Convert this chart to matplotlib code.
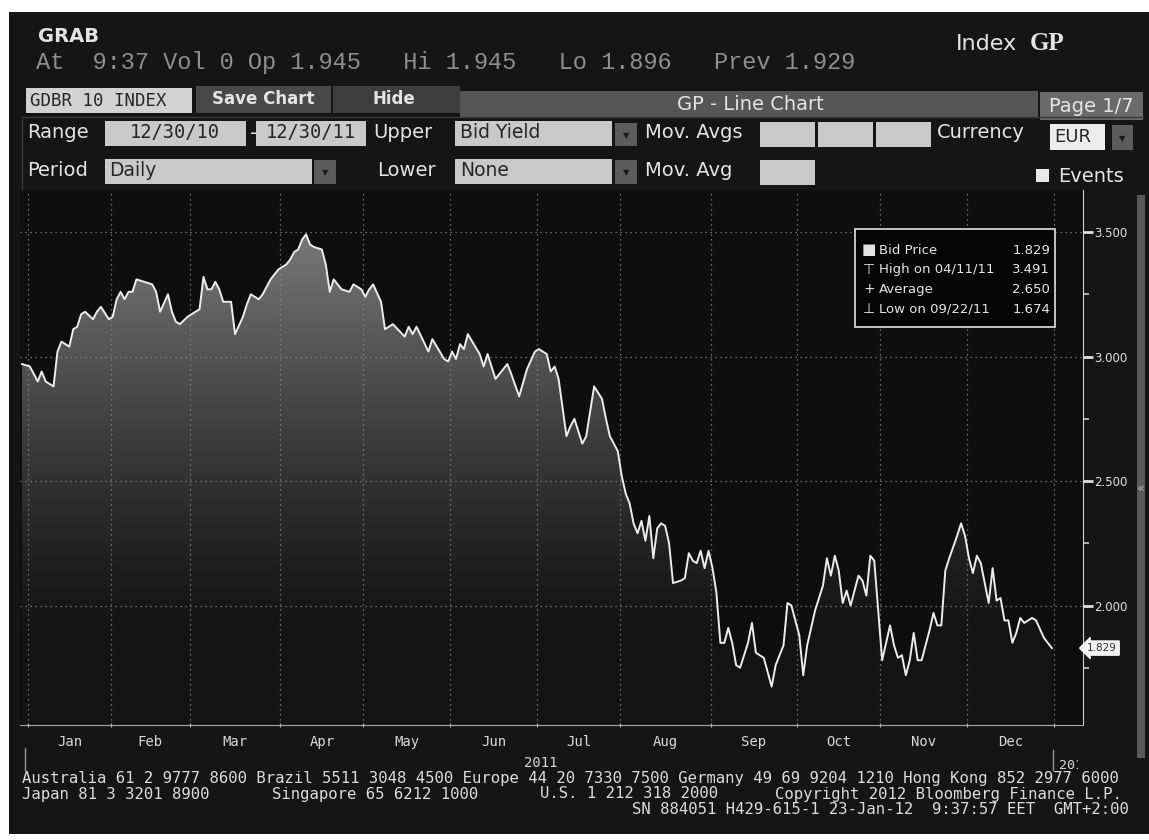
import numpy as np
import pandas as pd
import matplotlib
matplotlib.use("Agg")
import matplotlib.pyplot as plt
from matplotlib.patches import Rectangle, Polygon
from matplotlib.transforms import blended_transform_factory, Bbox

# ---- data (GDBR10, bid yield, daily) ----
obs_dates = [
    "2010-12-30", "2011-01-03", "2011-01-05", "2011-01-06", "2011-01-07", "2011-01-11",
    "2011-01-12", "2011-01-13", "2011-01-17", "2011-01-18", "2011-01-19", "2011-01-20",
    "2011-01-21", "2011-01-25", "2011-01-26", "2011-01-27", "2011-01-31", "2011-02-01",
    "2011-02-02", "2011-02-03", "2011-02-04", "2011-02-07", "2011-02-08", "2011-02-09",
    "2011-02-11", "2011-02-15", "2011-02-16", "2011-02-17", "2011-02-21", "2011-02-22",
    "2011-02-23", "2011-02-24", "2011-02-28", "2011-03-03", "2011-03-04", "2011-03-07",
    "2011-03-08", "2011-03-09", "2011-03-10", "2011-03-11", "2011-03-15", "2011-03-16",
    "2011-03-18", "2011-03-21", "2011-03-22", "2011-03-24", "2011-03-25", "2011-03-29",
    "2011-03-31", "2011-04-04", "2011-04-05", "2011-04-06", "2011-04-07", "2011-04-08",
    "2011-04-11", "2011-04-12", "2011-04-13", "2011-04-15", "2011-04-18", "2011-04-19",
    "2011-04-20", "2011-04-22", "2011-04-26", "2011-04-27", "2011-04-29", "2011-05-02",
    "2011-05-03", "2011-05-04", "2011-05-06", "2011-05-09", "2011-05-11", "2011-05-16",
    "2011-05-17", "2011-05-18", "2011-05-19", "2011-05-24", "2011-05-25", "2011-05-30",
    "2011-05-31", "2011-06-01", "2011-06-02", "2011-06-03", "2011-06-06", "2011-06-07",
    "2011-06-10", "2011-06-13", "2011-06-14", "2011-06-16", "2011-06-20", "2011-06-21",
    "2011-06-22", "2011-06-24", "2011-06-28", "2011-06-30", "2011-07-01", "2011-07-05",
    "2011-07-06", "2011-07-07", "2011-07-08", "2011-07-12", "2011-07-13", "2011-07-14",
    "2011-07-15", "2011-07-18", "2011-07-19", "2011-07-21", "2011-07-25", "2011-07-26",
    "2011-07-27", "2011-07-29", "2011-08-01", "2011-08-02", "2011-08-03", "2011-08-04",
    "2011-08-05", "2011-08-08", "2011-08-09", "2011-08-10", "2011-08-11", "2011-08-12",
    "2011-08-15", "2011-08-16", "2011-08-17", "2011-08-18", "2011-08-22", "2011-08-23",
    "2011-08-24", "2011-08-25", "2011-08-26", "2011-08-29", "2011-08-30", "2011-08-31",
    "2011-09-01", "2011-09-02", "2011-09-05", "2011-09-06", "2011-09-07", "2011-09-08",
    "2011-09-09", "2011-09-12", "2011-09-14", "2011-09-15", "2011-09-16", "2011-09-20",
    "2011-09-22", "2011-09-23", "2011-09-27", "2011-09-28", "2011-09-29", "2011-10-03",
    "2011-10-04", "2011-10-05", "2011-10-07", "2011-10-11", "2011-10-12", "2011-10-13",
    "2011-10-14", "2011-10-17", "2011-10-18", "2011-10-19", "2011-10-20", "2011-10-24",
    "2011-10-25", "2011-10-26", "2011-10-27", "2011-10-28", "2011-11-01", "2011-11-03",
    "2011-11-04", "2011-11-07", "2011-11-08", "2011-11-09", "2011-11-10", "2011-11-11",
    "2011-11-14", "2011-11-15", "2011-11-17", "2011-11-18", "2011-11-21", "2011-11-22",
    "2011-11-23", "2011-11-24", "2011-11-28", "2011-11-29", "2011-11-30", "2011-12-01",
    "2011-12-02", "2011-12-05", "2011-12-06", "2011-12-08", "2011-12-09", "2011-12-12",
    "2011-12-13", "2011-12-14", "2011-12-15", "2011-12-16", "2011-12-19", "2011-12-20",
    "2011-12-21", "2011-12-23", "2011-12-26", "2011-12-28", "2011-12-30",
]
bid_yield = [
    2.97, 2.96, 2.90, 2.94, 2.90, 2.88,
    3.02, 3.06, 3.04, 3.11, 3.12, 3.17,
    3.18, 3.15, 3.18, 3.20, 3.15, 3.16,
    3.23, 3.26, 3.23, 3.26, 3.26, 3.31,
    3.30, 3.29, 3.26, 3.18, 3.25, 3.18,
    3.14, 3.13, 3.16, 3.19, 3.32, 3.27,
    3.27, 3.30, 3.27, 3.22, 3.22, 3.09,
    3.16, 3.21, 3.25, 3.23, 3.25, 3.31,
    3.35, 3.37, 3.39, 3.42, 3.43, 3.47,
    3.491, 3.45, 3.44, 3.43, 3.37, 3.26,
    3.31, 3.27, 3.26, 3.29, 3.27, 3.24,
    3.27, 3.29, 3.22, 3.11, 3.13, 3.08,
    3.12, 3.09, 3.12, 3.02, 3.07, 2.99,
    2.98, 3.02, 2.99, 3.05, 3.03, 3.09,
    3.01, 2.96, 3.01, 2.91, 2.95, 2.97,
    2.93, 2.84, 2.95, 3.02, 3.03, 3.01,
    2.94, 2.96, 2.91, 2.68, 2.72, 2.75,
    2.70, 2.65, 2.68, 2.88, 2.83, 2.75,
    2.68, 2.62, 2.52, 2.45, 2.41, 2.33,
    2.29, 2.34, 2.26, 2.36, 2.19, 2.31,
    2.33, 2.32, 2.25, 2.09, 2.10, 2.11,
    2.21, 2.18, 2.17, 2.22, 2.15, 2.22,
    2.15, 2.05, 1.85, 1.85, 1.91, 1.85,
    1.76, 1.75, 1.85, 1.93, 1.81, 1.79,
    1.674, 1.76, 1.84, 2.01, 2.00, 1.88,
    1.72, 1.84, 1.98, 2.08, 2.19, 2.12,
    2.20, 2.14, 2.01, 2.06, 2.00, 2.12,
    2.10, 2.04, 2.20, 2.18, 1.78, 1.92,
    1.84, 1.79, 1.80, 1.72, 1.78, 1.89,
    1.78, 1.78, 1.90, 1.97, 1.92, 1.92,
    2.14, 2.19, 2.28, 2.33, 2.28, 2.19,
    2.13, 2.20, 2.17, 2.01, 2.15, 2.02,
    2.03, 1.94, 1.94, 1.85, 1.89, 1.95,
    1.93, 1.95, 1.94, 1.87, 1.829,
]
month_labels = ["Jan", "Feb", "Mar", "Apr", "May", "Jun",
                "Jul", "Aug", "Sep", "Oct", "Nov", "Dec"]
y_major = [2.0, 2.5, 3.0, 3.5]
y_minor = [1.75, 2.25, 2.75, 3.25]
legend_names = ["Bid Price", "High on 04/11/11", "Average", "Low on 09/22/11"]
legend_values = ["1.829", "3.491", "2.650", "1.674"]
legend_marks = ["\u25A0", "\u22A4", "+", "\u22A5"]
quote_line = "At  9:37 Vol 0 Op 1.945   Hi 1.945   Lo 1.896   Prev 1.929"
footer_rows = [
    [(22, "Australia 61 2 9777 8600 Brazil 5511 3048 4500 Europe 44 20 7330 7500 "
          "Germany 49 69 9204 1210 Hong Kong 852 2977 6000")],
    [(22, "Japan 81 3 3201 8900"), (272, "Singapore 65 6212 1000"),
     (540, "U.S. 1 212 318 2000"), (775, "Copyright 2012 Bloomberg Finance L.P.")],
    [(632, "SN 884051 H429-615-1 23-Jan-12  9:37:57 EET  GMT+2:00")],
]

W, H = 1149, 840
SCREEN = "#151515"
PLOT_BG = "#0e0e0e"
FG = "#e4e4e4"
FIELD = "#c9c9c9"
FIELD_TXT = "#262626"

fig = plt.figure(figsize=(W / 100, H / 100), dpi=100)
fig.patch.set_facecolor("white")

ui = fig.add_axes([0, 0, 1, 1])
ui.set_xlim(0, W)
ui.set_ylim(H, 0)
ui.axis("off")


def box(x0, y0, x1, y1, fc, ec="none", lw=0):
    ui.add_patch(Rectangle((x0, y0), x1 - x0, y1 - y0, facecolor=fc,
                           edgecolor=ec, linewidth=lw))


def txt(x, y, s, size=14, color=FG, ha="left", weight="normal", family="DejaVu Sans"):
    return ui.text(x, y, s, fontsize=size, color=color, ha=ha, va="center",
                   fontweight=weight, family=family)


def dropdown(x0, y0, x1, y1):
    box(x0, y0, x1, y1, "#5c5c5c")
    txt((x0 + x1) / 2, (y0 + y1) / 2 + 1, "\u25BC", size=6, color="#1a1a1a", ha="center")


# screen
box(9, 12, 1149, 834, SCREEN)

# header
txt(38, 37, "GRAB", size=14, weight="bold")
txt(36, 63, quote_line, size=17, color="#8e8e8e", family="Liberation Mono")
txt(956, 44, "Index", size=16)
txt(1030, 44, "GP", size=18, weight="bold", family="Liberation Serif")

# tab row
box(26, 88, 192, 113, "#d2d2d2")
txt(30, 101, "GDBR 10 INDEX", size=12.5, color=FIELD_TXT, family="DejaVu Sans Mono")
box(196, 86, 331, 113, "#484848")
txt(263, 99, "Save Chart", size=12, weight="bold", ha="center")
box(333, 86, 460, 113, "#3d3d3d")
txt(372, 99, "Hide", size=12, weight="bold")
box(460, 91, 1038, 117, "#565656")
txt(750, 104, "GP - Line Chart", size=14, ha="center")
box(1040, 92, 1143, 120, "#6a6a6a")
txt(1091, 106, "Page 1/7", size=14, ha="center")
ui.plot([22, 22, 1143], [190, 117, 117], color="#3a3a3a", lw=1)

# range row
txt(27, 133, "Range", size=14)
box(105, 121, 246, 146, FIELD)
txt(175, 133, "12/30/10", size=13.5, color=FIELD_TXT, ha="center", family="DejaVu Sans Mono")
txt(250, 133, "-", size=14)
box(256, 121, 366, 146, FIELD)
txt(311, 133, "12/30/11", size=13.5, color=FIELD_TXT, ha="center", family="DejaVu Sans Mono")
txt(373, 133, "Upper", size=14)
box(455, 121, 612, 146, FIELD)
txt(460, 133, "Bid Yield", size=13.5, color=FIELD_TXT)
dropdown(615, 123, 637, 146)
txt(645, 133, "Mov. Avgs", size=14)
for x0 in (760, 818, 876):
    box(x0, 122, x0 + 55, 147, FIELD)
txt(937, 133, "Currency", size=14)
box(1050, 124, 1105, 150, "#ececec")
txt(1054, 137, "EUR", size=13, color=FIELD_TXT)
dropdown(1112, 125, 1133, 150)

# period row
txt(27, 171, "Period", size=14)
box(105, 159, 312, 184, FIELD)
txt(109, 171, "Daily", size=13.5, color=FIELD_TXT)
dropdown(314, 160, 336, 184)
txt(377, 171, "Lower", size=14)
box(455, 159, 612, 184, FIELD)
txt(460, 171, "None", size=13.5, color=FIELD_TXT)
dropdown(615, 160, 637, 184)
txt(645, 171, "Mov. Avg", size=14)
box(760, 160, 815, 185, FIELD)
box(1036, 169, 1049, 182, "#e8e8e8")
txt(1058, 177, "Events", size=14)

# scroll strip on the right
box(1137, 195, 1145, 758, "#5a5a5a")
txt(1141, 488, "\u00AB", size=9, color="#bbbbbb", ha="center")

# footer
row_y = [779, 794, 809]
for y, row in zip(row_y, footer_rows):
    for x, s in row:
        txt(x, y, s, size=11.25, color="#dcdcdc", family="DejaVu Sans Mono")
ui.plot([25, 25], [748, 770], color="#9a9a9a", lw=1)
ui.plot([1053, 1053], [750, 770], color="#9a9a9a", lw=1)

# ---- chart ----
AX_L, AX_R, AX_T, AX_B = 20, 1083, 190, 725
ax = fig.add_axes([AX_L / W, 1 - AX_B / H, (AX_R - AX_L) / W, (AX_B - AX_T) / H])
ax.set_zorder(2)
ax.set_facecolor(PLOT_BG)

bdays = pd.bdate_range("2010-12-30", "2012-01-31")
xpos = bdays.get_indexer(pd.to_datetime(obs_dates))
yval = np.array(bid_yield)

# first business day of each month from Jan 2011 to Jan 2012 -> boundary ticks
day_no = pd.Series(np.arange(len(bdays)), index=bdays)
firsts = day_no.groupby([bdays.year, bdays.month]).first().values[1:14]
bounds = firsts - 0.5
mids = (bounds[:-1] + bounds[1:]) / 2

YLO, YHI = 1.52, 3.669
XLO, XHI = -0.5, 268.9

# gradient fill under the line
verts = np.column_stack([np.r_[xpos[0], xpos, xpos[-1]], np.r_[YLO, yval, YLO]])
clip = Polygon(verts, closed=True, facecolor="none", edgecolor="none")
ax.add_patch(clip)
ys = np.linspace(YLO, YHI, 300)
lev = np.clip((ys - 1.85) / (3.5 - 1.85), 0, 1) ** 1.3 * 0.40 + 0.075
grad = np.repeat(lev[:, None], 3, axis=1)[:, None, :]
img = ax.imshow(grad, extent=[XLO, XHI, YLO, YHI], origin="lower", aspect="auto",
                interpolation="bilinear", zorder=1)
img.set_clip_path(clip)

ax.plot(xpos, yval, color="#ececec", lw=1.4, zorder=3)

ax.set_xlim(XLO, XHI)
ax.set_ylim(YLO, YHI)

ax.set_xticks(bounds)
ax.set_xticklabels([])
ax.set_xticks(mids, minor=True)
ax.set_xticklabels(month_labels, minor=True)
ax.tick_params(axis="x", which="major", length=3, direction="inout", color="#bbbbbb")
ax.tick_params(axis="x", which="minor", length=0, pad=7, labelsize=10,
               labelcolor="#d8d8d8", labelfontfamily="DejaVu Sans Mono")

ax.yaxis.tick_right()
ax.set_yticks(y_major)
ax.set_yticklabels([f"{v:.3f}" for v in y_major])
ax.set_yticks(y_minor, minor=True)
ax.tick_params(axis="y", which="major", length=7, width=2, direction="out",
               color="#e0e0e0", pad=1, labelsize=8.5, labelcolor="#e0e0e0")
ax.tick_params(axis="y", which="minor", length=4, width=1.2, direction="out", color="#cccccc")

ax.grid(True, which="major", color="#8a8a8a", linestyle=(0, (1, 3)), linewidth=0.9)
for side in ("left", "top"):
    ax.spines[side].set_visible(False)
ax.spines["bottom"].set_color("#a8a8a8")
ax.spines["right"].set_color("#d0d0d0")

# year labels under the months
yr = blended_transform_factory(ax.transData, ax.transAxes)
ax.text((bounds[0] + bounds[-1]) / 2, -0.071, "2011", transform=yr, ha="center", va="center",
        fontsize=10, color="#d8d8d8", family="DejaVu Sans Mono", clip_on=False)
t12 = ax.text(bounds[-1] + 1.2, -0.075, "2012", transform=yr, ha="left", va="center",
              fontsize=9.5, color="#d8d8d8", family="DejaVu Sans Mono", clip_on=True)
t12.set_clip_box(Bbox.from_extents(0, 0, 1078, H))

# last value tag on the axis
tag = blended_transform_factory(ax.transAxes, ax.transData)
ax.text(1.004, yval[-1], legend_values[0], transform=tag, ha="left", va="center",
        fontsize=7.5, color="#303030", clip_on=False,
        bbox=dict(boxstyle="larrow,pad=0.2", fc="#f2f2f2", ec="#f2f2f2"))

# legend box on top of the chart
top = fig.add_axes([0, 0, 1, 1], zorder=3)
top.set_xlim(0, W)
top.set_ylim(H, 0)
top.axis("off")
top.add_patch(Rectangle((855, 229), 200, 98, facecolor="#060606", edgecolor="#e2e2e2", linewidth=1.2))
for k, (mk, name, val) in enumerate(zip(legend_marks, legend_names, legend_values)):
    yy = 250 + k * 19.7
    top.text(869, yy, mk, fontsize=11 if k == 0 else 10, color=FG, ha="center", va="center")
    top.text(879, yy, name, fontsize=9.5, color=FG, ha="left", va="center")
    top.text(1050, yy, val, fontsize=9.5, color=FG, ha="right", va="center")

fig.savefig("out.png", dpi=100, facecolor=fig.get_facecolor())
